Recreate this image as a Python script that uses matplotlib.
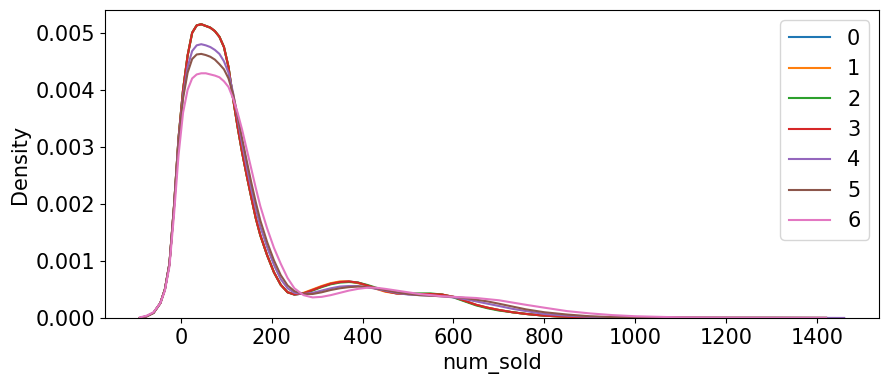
import numpy as np
import matplotlib
matplotlib.use("Agg")
import matplotlib.pyplot as plt

plt.rcParams['font.size'] = 15

# evaluation grid of the density curves (num_sold)
grid = [-90, -75, -60, -45, -35, -25, -15, -5, 5, 15, 25, 35, 45, 55, 65, 75,
        85, 95, 105, 115, 125, 135, 145, 155, 165, 175, 190, 205, 220, 235,
        250, 270, 290, 310, 330, 350, 370, 390, 410, 430, 450, 475, 500, 525,
        550, 575, 600, 625, 650, 675, 700, 730, 760, 800, 850, 900, 950, 1000,
        1100, 1200, 1300, 1420, 1460]

nan = np.nan

dens_0 = [0.0, 0.00003, 0.00009, 0.00026, 0.0005, 0.00095, 0.00195, 0.00314,
          0.004, 0.0046, 0.005, 0.00513, 0.00515, 0.00512, 0.00509, 0.00503,
          0.00493, 0.00475, 0.0044, 0.00385, 0.00335, 0.0029, 0.0025, 0.00212,
          0.00175, 0.00145, 0.0011, 0.0008, 0.00058, 0.00045, 0.00041, 0.00043,
          0.00049, 0.00055, 0.0006, 0.00063, 0.00064, 0.00062, 0.00057, 0.00052,
          0.00047, 0.00043, 0.00042, 0.00042, 0.00042, 0.00041, 0.00037, 0.0003,
          0.00023, 0.00018, 0.00014, 0.0001, 0.00007, 0.00004, 0.00002, 0.00001,
          0.000005, 0.000003, 0.000002, 0.000001, 0.000001, 0.0, nan]
dens_1 = [0.0, 0.00003, 0.00009, 0.00026, 0.0005, 0.00095, 0.00195, 0.00315,
          0.004, 0.0046, 0.005, 0.00513, 0.00515, 0.00512, 0.00509, 0.00503,
          0.00493, 0.00475, 0.0044, 0.00385, 0.00335, 0.0029, 0.0025, 0.00212,
          0.00175, 0.00145, 0.0011, 0.0008, 0.00058, 0.00045, 0.00042, 0.00044,
          0.0005, 0.00056, 0.00061, 0.00064, 0.00064, 0.00061, 0.00056, 0.00051,
          0.00046, 0.00043, 0.00042, 0.00042, 0.00042, 0.00041, 0.00037, 0.0003,
          0.00023, 0.00018, 0.00014, 0.0001, 0.00007, 0.00004, 0.00002, 0.00001,
          0.000005, 0.000003, 0.000002, 0.000001, 0.000001, 0.0, nan]
dens_2 = [0.0, 0.00003, 0.00009, 0.00026, 0.0005, 0.00095, 0.00195, 0.00315,
          0.004, 0.0046, 0.005, 0.00513, 0.00515, 0.00512, 0.00509, 0.00503,
          0.00493, 0.00475, 0.0044, 0.00385, 0.00335, 0.0029, 0.0025, 0.00212,
          0.00175, 0.00145, 0.0011, 0.0008, 0.00058, 0.00045, 0.00041, 0.00043,
          0.00048, 0.00054, 0.00059, 0.00062, 0.00063, 0.00062, 0.00058, 0.00053,
          0.00048, 0.00044, 0.00043, 0.00043, 0.00043, 0.00041, 0.00036, 0.00029,
          0.00022, 0.00017, 0.00013, 0.0001, 0.00007, 0.00004, 0.00002, 0.00001,
          0.000005, 0.000003, 0.000002, 0.000001, 0.000001, 0.0, nan]
dens_3 = [0.0, 0.00003, 0.00009, 0.00026, 0.0005, 0.00095, 0.00195, 0.00315,
          0.004, 0.0046, 0.005, 0.00513, 0.00515, 0.00512, 0.00509, 0.00503,
          0.00493, 0.00475, 0.0044, 0.00385, 0.00335, 0.0029, 0.0025, 0.00212,
          0.00175, 0.00145, 0.0011, 0.0008, 0.00058, 0.00045, 0.00041, 0.00043,
          0.00049, 0.00055, 0.0006, 0.00063, 0.00064, 0.00062, 0.00057, 0.00052,
          0.00047, 0.00043, 0.00042, 0.00042, 0.00042, 0.00041, 0.00037, 0.0003,
          0.00023, 0.00018, 0.00014, 0.0001, 0.00007, 0.00004, 0.00002, 0.00001,
          0.000005, 0.000003, 0.000002, 0.000001, 0.000001, 0.0, nan]
dens_4 = [0.0, 0.00003, 0.00009, 0.00026, 0.0005, 0.00095, 0.00193, 0.0031,
          0.0039, 0.0044, 0.00468, 0.00478, 0.0048, 0.00478, 0.00475, 0.0047,
          0.00463, 0.0045, 0.0043, 0.00395, 0.0035, 0.00305, 0.00265, 0.00227,
          0.00192, 0.0016, 0.00124, 0.00093, 0.00068, 0.00052, 0.00044, 0.00042,
          0.00044, 0.00048, 0.00052, 0.00055, 0.00056, 0.00056, 0.00054, 0.00051,
          0.00048, 0.00044, 0.00041, 0.0004, 0.00039, 0.00038, 0.00036, 0.00033,
          0.00029, 0.00025, 0.00021, 0.00016, 0.00012, 0.00007, 0.00004, 0.00002,
          0.00001, 0.000005, 0.000003, 0.000002, 0.000002, 0.000001, 0.0]
dens_5 = [0.0, 0.00003, 0.00009, 0.00026, 0.0005, 0.00094, 0.00192, 0.00305,
          0.00385, 0.0043, 0.00454, 0.00462, 0.00463, 0.00461, 0.00458, 0.00453,
          0.00445, 0.00436, 0.0042, 0.00393, 0.00355, 0.00315, 0.00276, 0.00238,
          0.00203, 0.00171, 0.00133, 0.00101, 0.00075, 0.00057, 0.00047, 0.00042,
          0.00042, 0.00045, 0.00049, 0.00052, 0.00054, 0.00055, 0.00054, 0.00052,
          0.00049, 0.00045, 0.00042, 0.0004, 0.00039, 0.00038, 0.00037, 0.00035,
          0.00032, 0.00029, 0.00025, 0.0002, 0.00015, 0.0001, 0.00006, 0.00003,
          0.000015, 0.000008, 0.000004, 0.000002, 0.000001, 0.0, nan]
dens_6 = [0.00001, 0.00004, 0.0001, 0.00026, 0.00048, 0.0009, 0.0018, 0.00285,
          0.0036, 0.004, 0.0042, 0.00427, 0.00429, 0.00429, 0.00427, 0.00425,
          0.00422, 0.00415, 0.00405, 0.00385, 0.0036, 0.0033, 0.00296, 0.00262,
          0.00228, 0.00196, 0.00157, 0.00123, 0.00095, 0.0007, 0.00052, 0.0004,
          0.00036, 0.00037, 0.0004, 0.00044, 0.00048, 0.00051, 0.00053, 0.00053,
          0.00051, 0.00048, 0.00045, 0.00042, 0.0004, 0.00038, 0.00037, 0.00036,
          0.00035, 0.00033, 0.00031, 0.00027, 0.00023, 0.00018, 0.00012, 0.00008,
          0.00005, 0.00003, 0.00001, 0.000005, 0.000002, 0.000001, nan]

labels = ['0', '1', '2', '3', '4', '5', '6']
series = [dens_0, dens_1, dens_2, dens_3, dens_4, dens_5, dens_6]
colors = plt.rcParams['axes.prop_cycle'].by_key()['color']

fig = plt.figure(figsize=(8.89, 3.84), dpi=100)
ax = fig.add_axes([0.118, 0.172, 0.871, 0.802])

for lab, d, c in zip(labels, series, colors):
    ax.plot(grid, d, color=c, label=lab, linewidth=1.5)

ax.set_xlim(-167, 1537)
ax.set_ylim(0, 0.0054)
ax.set_xticks([0, 200, 400, 600, 800, 1000, 1200, 1400])
ax.set_yticks([0, 0.001, 0.002, 0.003, 0.004, 0.005])
ax.set_xlabel('num_sold')
ax.set_ylabel('Density')
ax.legend(loc='upper right')

fig.savefig('out.png', dpi=100)
